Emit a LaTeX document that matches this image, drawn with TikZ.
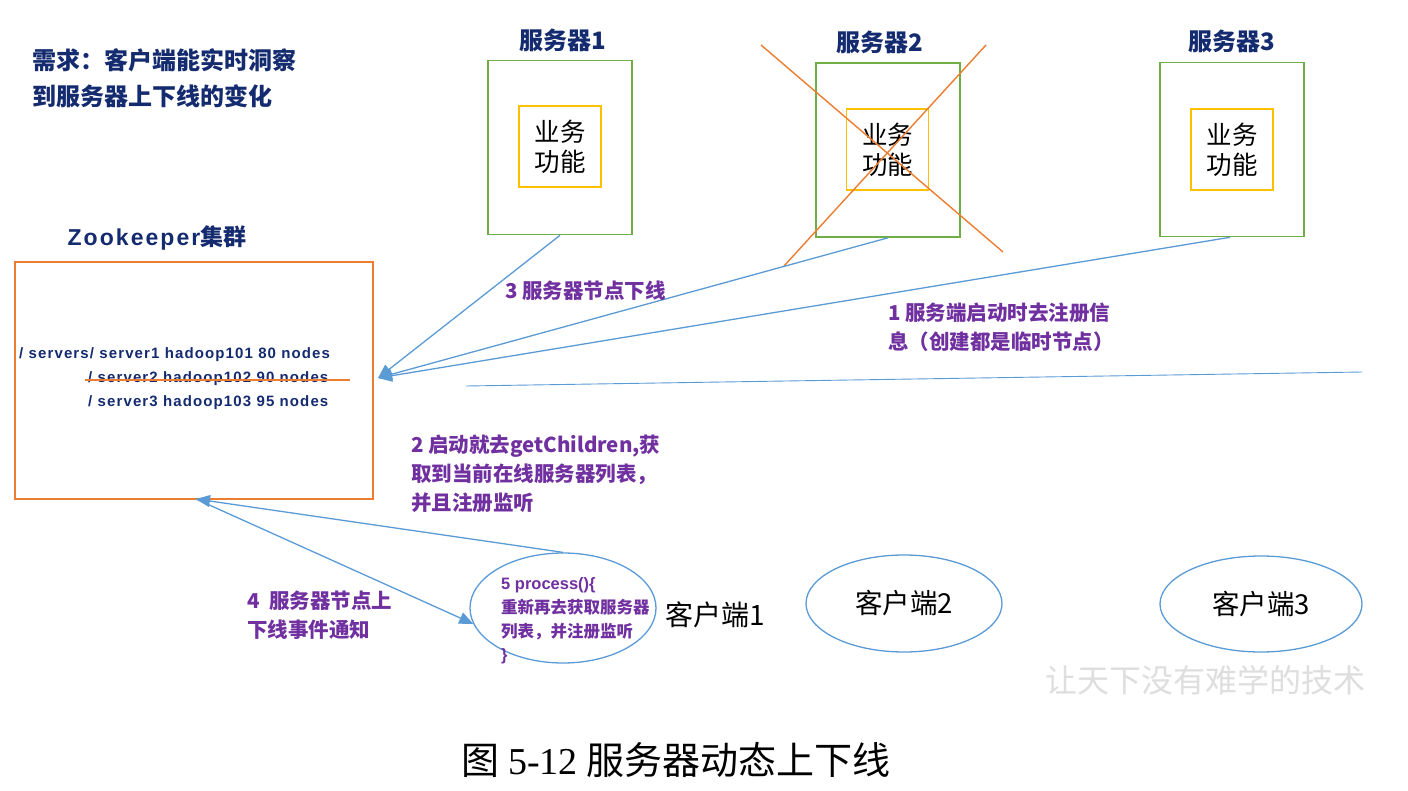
\documentclass[tikz,border=0pt]{standalone}
\usepackage{fontspec}
\setmainfont{Liberation Sans}
\newfontfamily\cjk{Noto Sans CJK SC}
\newfontfamily\tnr{Liberation Serif}
\newfontfamily\spaced{Liberation Sans}[LetterSpace=7.5]
\usetikzlibrary{shapes.geometric,arrows.meta}
\definecolor{navy}{HTML}{142B6F}
\definecolor{stepurple}{HTML}{7030A0}
\definecolor{srvgreen}{HTML}{70AD47}
\definecolor{funcyellow}{HTML}{FFC000}
\definecolor{crossorange}{HTML}{ED7D31}
\definecolor{flowblue}{HTML}{5B9BD5}
\tikzset{
  srvbox/.style={draw=srvgreen, line width=1.6pt, minimum width=144pt, minimum height=174pt, inner sep=0pt},
  funcbox/.style={draw=funcyellow, line width=1.6pt, minimum width=82pt, minimum height=81pt, inner sep=0pt,
    align=center, font=\cjk\fontsize{25.5}{30}\selectfont},
  srvtitle/.style={text=navy, font=\cjk\bfseries\fontsize{24}{28}\selectfont},
  steptext/.style={text=stepurple, anchor=west, align=left, inner sep=0pt,
    font=\cjk\bfseries\fontsize{20.5}{29}\selectfont},
  zkline/.style={text=navy, anchor=west, inner sep=0pt, font=\spaced\bfseries\fontsize{15}{17}\selectfont},
  flow/.style={draw=flowblue, line width=1.3pt, -{Triangle[length=14pt,width=12pt]}},
  client/.style={draw=flowblue, line width=1.3pt, ellipse, inner sep=0pt, font=\cjk\fontsize{27.5}{32}\selectfont},
  cross/.style={draw=crossorange, line width=1.4pt}
}
\begin{document}
\begin{tikzpicture}[x=1pt,y=-1pt]
\useasboundingbox[fill=white] (0,0) rectangle (1408,790);
% requirement note
\node[text=navy, anchor=west, align=left, inner sep=0pt, font=\cjk\bfseries\fontsize{24}{36}\selectfont] (need) at (32,78)
  {需求：客户端能实时洞察\\到服务器上下线的变化};
% servers
\node[srvbox] (srv1) at (560,147.5) {};
\node[funcbox] (func1) at (560,146.5) {业务\\功能};
\node[srvtitle] at (563,40) {服务器1};
\node[srvbox] (srv2) at (888,150) {};
\node[funcbox] (func2) at (887.5,149.5) {业务\\功能};
\node[srvtitle] at (880,42) {服务器2};
\node[srvbox] (srv3) at (1232,149.5) {};
\node[funcbox] (func3) at (1232,149.5) {业务\\功能};
\node[srvtitle] at (1232,41) {服务器3};
% server 2 is down
\coordinate (x1a) at (761,45);
\coordinate (x1b) at (1003,252);
\coordinate (x2a) at (986,45);
\coordinate (x2b) at (784,266);
\draw[cross] (x1a) -- (x1b);
\draw[cross] (x2a) -- (x2b);
% zookeeper cluster
\node[srvtitle, font=\bfseries\fontsize{23}{27}\selectfont] (zktitle) at (157,238)
  {{\spaced\addfontfeature{LetterSpace=9}Zookeeper}{\cjk 集群}};
\node[draw=crossorange, line width=1.6pt, minimum width=358pt, minimum height=237pt] (zk) at (194,380.5) {};
\node[zkline] (zk1) at (19,355) {/ servers/ server1 hadoop101 80 nodes};
\node[zkline] (zk2) at (88,379) {/ server2 hadoop102 90 nodes};
\node[zkline] (zk3) at (88,403) {/ server3 hadoop103 95 nodes};
\coordinate (strikea) at (85,380);
\coordinate (strikeb) at (350,380);
\draw[cross] (strikea) -- (strikeb);
% registration arrows
\coordinate (zkhub) at (378,378);
\coordinate (zkfoot) at (196,499);
\draw[flow] (srv1.south) -- (zkhub);
\draw[flow] (srv2.south) -- (zkhub);
\draw[flow] ([xshift=-2pt]srv3.south) -- (zkhub);
\coordinate (rulea) at (466,386);
\coordinate (ruleb) at (1362,372);
\draw[flowblue, line width=0.9pt] (rulea) -- (ruleb);
% clients
\node[client, minimum width=186pt, minimum height=110pt] (client1) at (563,608) {};
\node[text=stepurple, anchor=west, align=left, inner sep=0pt, font=\cjk\bfseries\fontsize{16.5}{23.7}\selectfont] (proc) at (501,621)
  {{\rmfamily 5 process()\{}\\重新再去获取服务器\\列表，并注册监听\\{\rmfamily\}}};
\node[font=\cjk\fontsize{28}{32}\selectfont, anchor=west, inner sep=0pt] (c1name) at (665,615) {客户端1};
\node[client, minimum width=196pt, minimum height=97pt] (client2) at (904,603.5) {客户端2};
\node[client, minimum width=202pt, minimum height=96pt] (client3) at (1261,604) {客户端3};
\draw[flow] (client1.north) -- (zkfoot);
\draw[flow] (zkfoot) -- (client1.190);
% step labels
\node[steptext] (lbl3) at (505,291) {3 服务器节点下线};
\node[steptext] (lbl1) at (888,327.5) {1 服务端启动时去注册信\\息（创建都是临时节点）};
\node[steptext] (lbl2) at (411,474) {2 启动就去getChildren,获\\取到当前在线服务器列表，\\并且注册监听};
\node[steptext] (lbl4) at (247,615.5) {4\ \ 服务器节点上\\下线事件通知};
% watermark and caption
\node[text=black!13, font=\cjk\fontsize{32}{34}\selectfont] (mark) at (1205,680) {让天下没有难学的技术};
\node[font=\cjk\fontsize{38}{42}\selectfont] (caption) at (676,760) {图 {\tnr 5-12} 服务器动态上下线};
\end{tikzpicture}
\end{document}
